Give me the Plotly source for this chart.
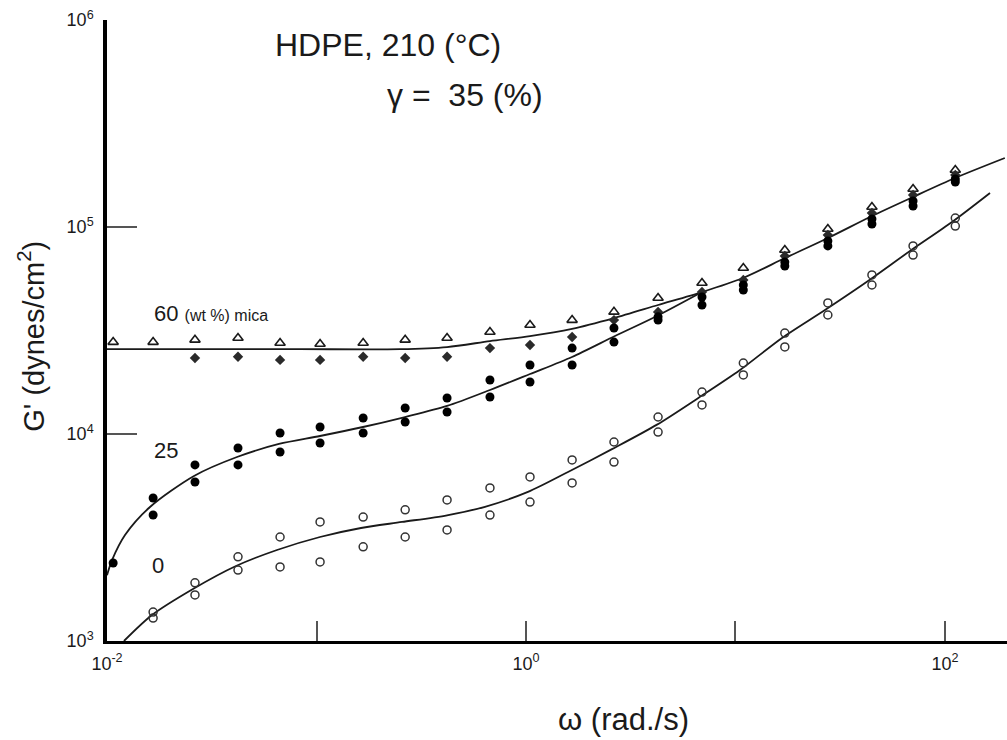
import plotly.graph_objects as go

# Angular frequency of the sweep (rad/s)
omega = [0.0107, 0.0166, 0.0263, 0.0422, 0.067, 0.104, 0.167, 0.265, 0.42, 0.673,
         1.045, 1.66, 2.63, 4.27, 6.92, 10.9, 17.2, 27.6, 44.8, 70.4, 112]

# Storage modulus G' (dynes/cm^2), two runs per mica loading
g60_a = [27800, 27800, 28500, 29100, 27500, 27200, 27500, 28500, 29100, 31100,
         33600, 35500, 38900, 45400, 53600, 63400, 77400, 97800, 124900, 152600, 188600]
g60_b = [None, None, 23300, 23600, 22800, 22800, 23600, 23300, 23600, 26000,
         26900, 29400, 35500, 38900, 48500, 55500, 72400, 91500, 116800, 142700, 178300]
g25_a = [2380, 4910, 7090, 8560, 10110, 10810, 11950, 13360, 14930, 18230,
         21540, 26000, 32500, 36800, 45900, 52500, 67700, 85600, 109300, 133600, 170500]
g25_b = [None, 4060, 5860, 7090, 8190, 9050, 10110, 11430, 12770, 15090,
         17830, 21540, 27800, 35500, 42000, 49600, 64800, 81000, 103400, 126300, 165000]
g0_a = [None, 1380, 1910, 2550, 3180, 3760, 3970, 4300, 4800, 5490,
        6200, 7490, 9150, 12080, 15950, 22030, 30750, 42960, 58640, 81000, 110500]
g0_b = [None, 1290, 1670, 2200, 2280, 2410, 2850, 3180, 3440, 4060,
        4690, 5800, 7320, 10220, 13810, 19280, 26330, 37570, 52460, 73220, 101100]

# Smooth trend curves through each data set
fit60_w = [0.01, 0.0278, 0.0834, 0.25, 0.42, 0.673, 1.045, 1.658, 2.63, 4.27, 6.92,
           10.86, 17.23, 27.64, 44.83, 70.37, 111.6, 193]
fit60_g = [25700, 25700, 25700, 25700, 26300, 28100, 29700, 32200, 36300, 42000, 48500,
           56700, 70800, 88500, 113000, 139600, 172400, 215400]
fit25_w = [0.01, 0.01057, 0.01219, 0.01604, 0.02602, 0.04174, 0.06622, 0.1039, 0.1667,
           0.2646, 0.42, 0.673, 1.045, 1.658, 2.659, 4.22, 6.92]
fit25_g = [2080, 2460, 3250, 4440, 6270, 7740, 8950, 9780, 10810,
           12080, 13660, 16310, 19490, 23550, 29740, 37160, 48500]
fit0_w = [0.01205, 0.0164, 0.02573, 0.04127, 0.06478, 0.1039, 0.1631, 0.2559, 0.4197,
          0.6371, 1.022, 1.587, 2.573, 4.22, 6.622, 10.51, 16.67, 26.74, 42.91,
          68.07, 108.0, 164.0]
fit0_g = [1000, 1335, 1783, 2303, 2752, 3180, 3515, 3758, 4050,
          4450, 5250, 6552, 8450, 11100, 14900, 20380, 29100, 39720, 54840,
          76580, 105700, 146000]

x_tickvals = [0.01, 0.1, 1, 10, 100]
x_ticktext = ["10<sup>-2</sup>", "", "10<sup>0</sup>", "", "10<sup>2</sup>"]
y_tickvals = [1e3, 1e4, 1e5, 1e6]
y_ticktext = ["10<sup>3</sup>", "10<sup>4</sup>", "10<sup>5</sup>", "10<sup>6</sup>"]

INK = "#1a1a1a"
FONT = "Liberation Sans, Arial, Helvetica, sans-serif"

fig = go.Figure()

for w, g in [(fit60_w, fit60_g), (fit25_w, fit25_g), (fit0_w, fit0_g)]:
    fig.add_trace(go.Scatter(x=w, y=g, mode="lines",
                             line=dict(color=INK, width=1.8, shape="spline", smoothing=0.8),
                             hoverinfo="skip"))

marker_sets = [
    (g60_a, dict(symbol="triangle-up-open", size=9, color=INK, line=dict(width=1.6, color=INK))),
    (g60_b, dict(symbol="diamond", size=8, color="#2a2a2a", line=dict(width=0))),
    (g25_a, dict(symbol="circle", size=9, color="black", line=dict(width=0))),
    (g25_b, dict(symbol="circle", size=9, color="black", line=dict(width=0))),
    (g0_a, dict(symbol="circle-open", size=8, color="#333333", line=dict(width=1.5, color="#333333"))),
    (g0_b, dict(symbol="circle-open", size=8, color="#333333", line=dict(width=1.5, color="#333333"))),
]
for g, mk in marker_sets:
    fig.add_trace(go.Scatter(x=omega, y=g, mode="markers", marker=mk, cliponaxis=False))

annotations = [
    dict(text="HDPE, 210 (°C)", x=0.184, y=0.96, xanchor="left", yanchor="middle",
         font=dict(size=32)),
    dict(text="γ =  35 (%)", x=0.309, y=0.879, xanchor="left", yanchor="middle",
         font=dict(size=32)),
    dict(text="60 <span style='font-size:16px'>(wt %) mica</span>", x=0.05, y=0.528,
         xanchor="left", yanchor="middle", font=dict(size=22)),
    dict(text="25", x=0.05, y=0.306, xanchor="left", yanchor="middle", font=dict(size=22)),
    dict(text="0", x=0.048, y=0.121, xanchor="left", yanchor="middle", font=dict(size=22)),
    dict(text="G' (dynes/cm<sup>2</sup>)", x=-0.0844, y=0.49, textangle=-90,
         xanchor="center", yanchor="middle", font=dict(size=29)),
    dict(text="ω (rad./s)", x=0.5744, y=-0.127, xanchor="center", yanchor="middle",
         font=dict(size=31)),
]
for a in annotations:
    a.update(xref="paper", yref="paper", showarrow=False)
    a["font"].update(family=FONT, color=INK)

fig.update_layout(
    width=1007, height=740,
    margin=dict(l=107, r=0, t=20, b=99),
    paper_bgcolor="white", plot_bgcolor="white",
    showlegend=False,
    font=dict(family=FONT, color=INK, size=18),
    annotations=annotations,
    xaxis=dict(type="log", range=[-2, 2.296], showgrid=False, zeroline=False,
               showline=True, linecolor="black", linewidth=3,
               ticks="inside", ticklen=20, tickwidth=1.5, tickcolor="#555555",
               tickvals=x_tickvals, ticktext=x_ticktext, tickfont=dict(size=18),
               ticklabelstandoff=4),
    yaxis=dict(type="log", range=[3, 6], showgrid=False, zeroline=False,
               showline=True, linecolor="black", linewidth=3.5,
               ticks="inside", ticklen=30, tickwidth=1.5, tickcolor="#555555",
               tickvals=y_tickvals, ticktext=y_ticktext, tickfont=dict(size=18),
               ticklabelstandoff=6),
)

fig.write_html("out.html")
